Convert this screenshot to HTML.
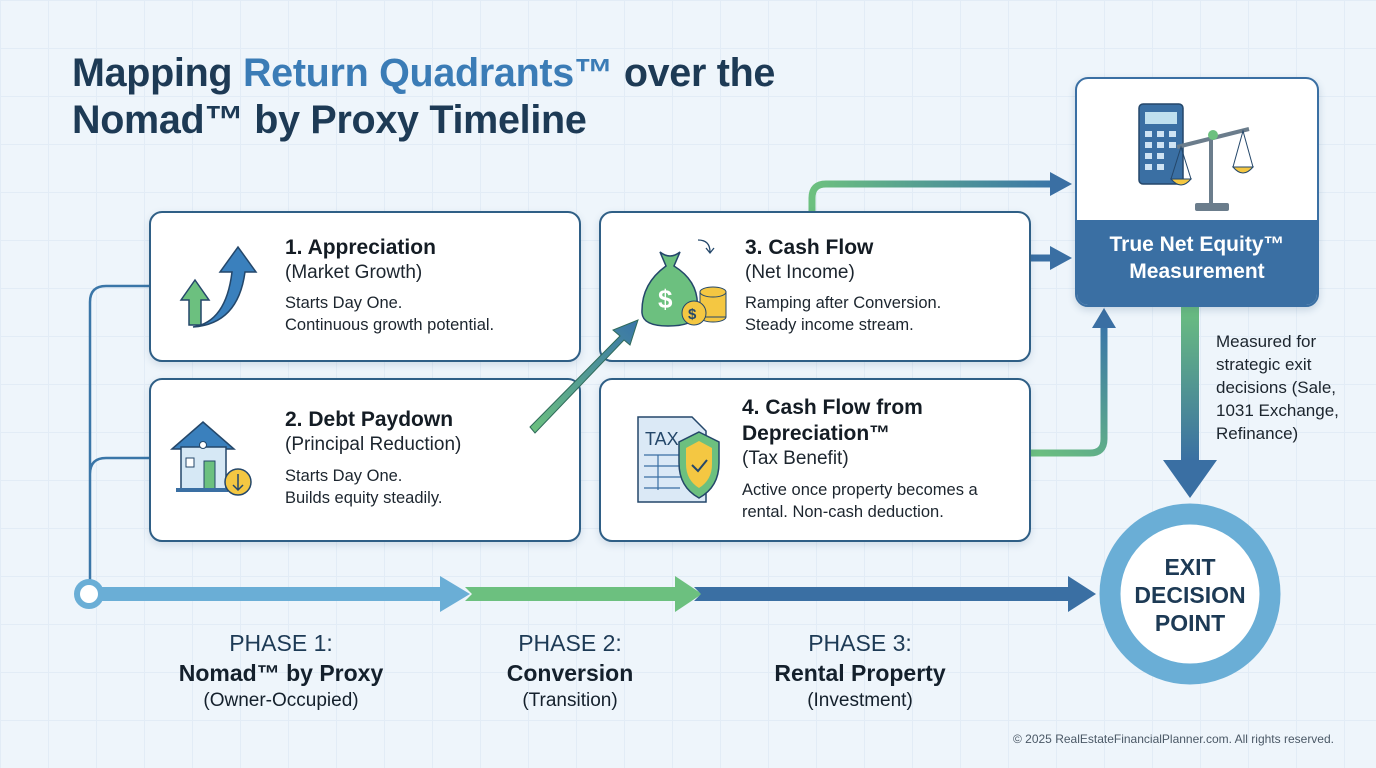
<!DOCTYPE html>
<html><head><meta charset="utf-8"><style>
html,body{margin:0;padding:0}
body{width:1376px;height:768px;overflow:hidden;font-family:"Liberation Sans",sans-serif;background:#eef5fb;position:relative}
.grid{position:absolute;inset:0;background-image:linear-gradient(#dde9f4 1px,transparent 1px),linear-gradient(90deg,#dde9f4 1px,transparent 1px);background-size:48px 48px;opacity:.7}
h1{position:absolute;left:72px;top:50px;margin:0;font-size:39.5px;line-height:47px;color:#1d3a55;font-weight:bold;letter-spacing:-0.3px}
h1 span{color:#3b7cb6}
.card{position:absolute;background:#fff;border:2px solid #2f5f86;border-radius:13px;box-shadow:0 3px 8px rgba(40,80,120,.15)}
.t{position:absolute;font-size:21px;font-weight:bold;color:#141c24;line-height:26px}
.s{position:absolute;font-size:19px;color:#1c252e;line-height:26px}
.d{position:absolute;font-size:16.5px;color:#1c252e;line-height:22px}
.ph{position:absolute;text-align:center;width:300px;color:#14202c}
.ph .a{font-size:23px;line-height:30px;color:#1d3a55}
.ph .b{font-size:23px;font-weight:bold;line-height:30px}
.ph .c{font-size:19px;line-height:26px}
svg{position:absolute;left:0;top:0}
</style></head><body>
<div class="grid"></div>
<h1>Mapping <span>Return Quadrants™</span> over the<br>Nomad™ by Proxy Timeline</h1>

<svg width="1376" height="768">
<defs>
<linearGradient id="gh" x1="0" y1="0" x2="1" y2="0"><stop offset="0" stop-color="#6cc07f"/><stop offset="1" stop-color="#3a76a8"/></linearGradient>
<linearGradient id="gv" x1="0" y1="0" x2="0" y2="1"><stop offset="0" stop-color="#6cc07f"/><stop offset="1" stop-color="#3a6fa3"/></linearGradient>
<linearGradient id="gv2" gradientUnits="userSpaceOnUse" x1="1030" y1="453" x2="1104" y2="326"><stop offset="0" stop-color="#6cc07f"/><stop offset="1" stop-color="#3a76a8"/></linearGradient>
</defs>
<path d="M90 582 V302 Q90 286 106 286 H150 M90 474 Q90 458 106 458 H150" fill="none" stroke="#3a76a8" stroke-width="2.5"/>
<rect x="95" y="587" width="350" height="14" fill="#6aaed6"/>
<polygon points="440,576 470,594 440,612" fill="#6aaed6"/>
<polygon points="465,587 675,587 675,576 702,594 675,612 675,601 465,601 472,594" fill="#6cc07f"/>
<polygon points="694,587 1068,587 1068,576 1096,594 1068,612 1068,601 694,601 701,594" fill="#3a6fa3"/>
<circle cx="89" cy="594" r="12" fill="#fff" stroke="#6aaed6" stroke-width="6"/>
<path d="M812 212 V198 Q812 184 826 184 H1052" fill="none" stroke="url(#gh)" stroke-width="7"/>
<polygon points="1050,172 1072,184 1050,196" fill="#3a6fa3"/>
<path d="M1030 258 H1052" stroke="#3a6fa3" stroke-width="7"/>
<polygon points="1050,246 1072,258 1050,270" fill="#3a6fa3"/>
<path d="M1030 453 H1090 Q1104 453 1104 439 V326" fill="none" stroke="url(#gv2)" stroke-width="7"/>
<polygon points="1092,328 1104,308 1116,328" fill="#3a6fa3"/>
<rect x="1181" y="304" width="18" height="158" fill="url(#gv)"/>
<polygon points="1163,460 1217,460 1190,498" fill="#3a6fa3"/>
<circle cx="1190" cy="594" r="80" fill="#fff" stroke="#6aaed6" stroke-width="21"/>
</svg>

<div class="card" style="left:149px;top:211px;width:428px;height:147px"></div>
<div class="card" style="left:149px;top:378px;width:428px;height:160px"></div>
<div class="card" style="left:599px;top:211px;width:428px;height:147px"></div>
<div class="card" style="left:599px;top:378px;width:428px;height:160px"></div>

<svg width="1376" height="768">
<defs><linearGradient id="gd" gradientUnits="userSpaceOnUse" x1="530" y1="430" x2="636" y2="322"><stop offset="0" stop-color="#6cc07f"/><stop offset="1" stop-color="#3a76a8"/></linearGradient></defs>
<polygon points="530,427 620,336 613,330 638,320 630,345 624,340 535,433" fill="url(#gd)" stroke="#2f6a5a" stroke-width="1"/>
<!-- appreciation icon -->
<path d="M181 300 L195 280 L209 300 H201 V325 H189 V300 Z" fill="#6cc07f" stroke="#24476a" stroke-width="1.5"/>
<path d="M193 327 Q226 322 232 272 H220 L238 247 L256 272 H245 Q238 324 193 327 Z" fill="#3a80bd" stroke="#24476a" stroke-width="1.5"/>
<!-- house -->
<polygon points="172,449 203,422 234,449" fill="#3a80bd" stroke="#24476a" stroke-width="1.5"/>
<rect x="181" y="447" width="45" height="42" fill="#d6e8f5" stroke="#24476a" stroke-width="1.5"/>
<rect x="204" y="461" width="11" height="28" fill="#6cc07f" stroke="#24476a"/>
<rect x="186" y="458" width="8" height="9" fill="#fff" stroke="#24476a"/>
<circle cx="203" cy="445" r="3.5" fill="#fff" stroke="#24476a"/>
<rect x="176" y="488" width="52" height="4" fill="#3a6fa3"/>
<circle cx="238" cy="482" r="13" fill="#f4c742" stroke="#24476a" stroke-width="1.5"/>
<path d="M238 474 V490 M233 485 L238 490 L243 485" stroke="#24476a" stroke-width="1.5" fill="none"/>
<!-- money bag -->
<path d="M660 252 Q670 260 680 252 L674 266 Q703 284 696 316 Q692 326 668 326 Q643 326 642 313 Q641 284 666 266 Z" fill="#6cc07f" stroke="#24476a" stroke-width="1.5"/>
<text x="658" y="308" font-size="26" font-weight="bold" fill="#fff" font-family="Liberation Sans">$</text>
<ellipse cx="713" cy="317" rx="13" ry="5" fill="#f4c742" stroke="#24476a"/>
<rect x="700" y="292" width="26" height="25" fill="#f4c742" stroke="#24476a"/>
<ellipse cx="713" cy="292" rx="13" ry="5" fill="#f4c742" stroke="#24476a"/>
<circle cx="694" cy="313" r="12" fill="#f4c742" stroke="#24476a"/>
<text x="688" y="319" font-size="15" font-weight="bold" fill="#24476a">$</text>
<path d="M698 240 Q710 240 710 252 M706 248 L710 253 L714 248" stroke="#24476a" fill="none" stroke-width="1.3"/>
<!-- tax -->
<path d="M638 417 H692 L706 431 V502 H638 Z" fill="#dbe9f6" stroke="#24476a" stroke-width="1.5"/>
<text x="645" y="445" font-size="18" fill="#24476a" font-family="Liberation Sans">TAX</text>
<path d="M644 455 H690 M644 466 H690 M644 477 H690 M644 488 H680 M658 455 V490" stroke="#3a6fa3" stroke-width="1.2"/>
<path d="M699 432 L719 442 V463 Q719 487 699 498 Q679 487 679 463 V442 Z" fill="#6cc07f" stroke="#24476a" stroke-width="1.5"/>
<path d="M699 441 L712 448 V464 Q712 480 699 488 Q686 480 686 464 V448 Z" fill="#f4c742"/>
<path d="M692 465 L698 471 L707 460" stroke="#24476a" stroke-width="2" fill="none"/>
</svg>

<div class="t" style="left:285px;top:235px">1. Appreciation</div>
<div class="s" style="left:285px;top:260px">(Market Growth)</div>
<div class="d" style="left:285px;top:292px">Starts Day One.<br>Continuous growth potential.</div>
<div class="t" style="left:285px;top:407px">2. Debt Paydown</div>
<div class="s" style="left:285px;top:432px">(Principal Reduction)</div>
<div class="d" style="left:285px;top:465px">Starts Day One.<br>Builds equity steadily.</div>
<div class="t" style="left:745px;top:235px">3. Cash Flow</div>
<div class="s" style="left:745px;top:260px">(Net Income)</div>
<div class="d" style="left:745px;top:292px">Ramping after Conversion.<br>Steady income stream.</div>
<div class="t" style="left:742px;top:395px">4. Cash Flow from<br>Depreciation™</div>
<div class="s" style="left:742px;top:446px">(Tax Benefit)</div>
<div class="d" style="left:742px;top:479px">Active once property becomes a<br>rental. Non-cash deduction.</div>

<div style="position:absolute;left:1075px;top:77px;width:240px;height:226px;border:2px solid #3a6fa3;border-radius:13px;background:#fff;overflow:hidden;box-shadow:0 3px 8px rgba(40,80,120,.2)">
 <div style="position:absolute;left:0;top:141px;width:240px;height:85px;background:#3a6fa3"></div>
 <div style="position:absolute;left:0;top:152px;width:240px;text-align:center;color:#fff;font-weight:bold;font-size:21px;line-height:27px">True Net Equity™<br>Measurement</div>
 <svg width="240" height="141">
  <rect x="62" y="25" width="44" height="80" rx="4" fill="#3a6fa3" stroke="#24476a" stroke-width="1.5"/>
  <rect x="68" y="33" width="32" height="12" fill="#bfe0ef"/>
  <g fill="#cfe4f4"><rect x="68" y="52" width="7" height="6"/><rect x="80" y="52" width="7" height="6"/><rect x="92" y="52" width="7" height="6"/><rect x="68" y="63" width="7" height="6"/><rect x="80" y="63" width="7" height="6"/><rect x="92" y="63" width="7" height="6"/><rect x="68" y="74" width="7" height="6"/><rect x="80" y="74" width="7" height="6"/><rect x="68" y="85" width="7" height="6"/><rect x="80" y="85" width="7" height="6"/></g>
  <path d="M100 68 L172 50 M134 55 V128" stroke="#6b7d8c" stroke-width="4"/>
  <circle cx="136" cy="56" r="5" fill="#6cc07f"/>
  <path d="M104 68 L94 100 H114 Z M166 52 L156 88 H176 Z" fill="none" stroke="#24476a"/>
  <path d="M94 100 Q104 112 114 100 Z M156 88 Q166 100 176 88 Z" fill="#f4c742" stroke="#24476a"/>
  <rect x="118" y="124" width="34" height="8" rx="2" fill="#6b7d8c"/>
 </svg>
</div>

<div class="d" style="left:1216px;top:330px;font-size:17px;line-height:23px">Measured for<br>strategic exit<br>decisions (Sale,<br>1031 Exchange,<br>Refinance)</div>

<div style="position:absolute;left:1110px;top:553px;width:160px;text-align:center;font-weight:bold;font-size:23px;line-height:28px;color:#1d3a55">EXIT<br>DECISION<br>POINT</div>

<div class="ph" style="left:131px;top:628px"><div class="a">PHASE 1:</div><div class="b">Nomad™ by Proxy</div><div class="c">(Owner-Occupied)</div></div>
<div class="ph" style="left:420px;top:628px"><div class="a">PHASE 2:</div><div class="b">Conversion</div><div class="c">(Transition)</div></div>
<div class="ph" style="left:710px;top:628px"><div class="a">PHASE 3:</div><div class="b">Rental Property</div><div class="c">(Investment)</div></div>

<div style="position:absolute;right:42px;top:732px;font-size:12px;color:#4a5866">© 2025 RealEstateFinancialPlanner.com. All rights reserved.</div>
</body></html>
